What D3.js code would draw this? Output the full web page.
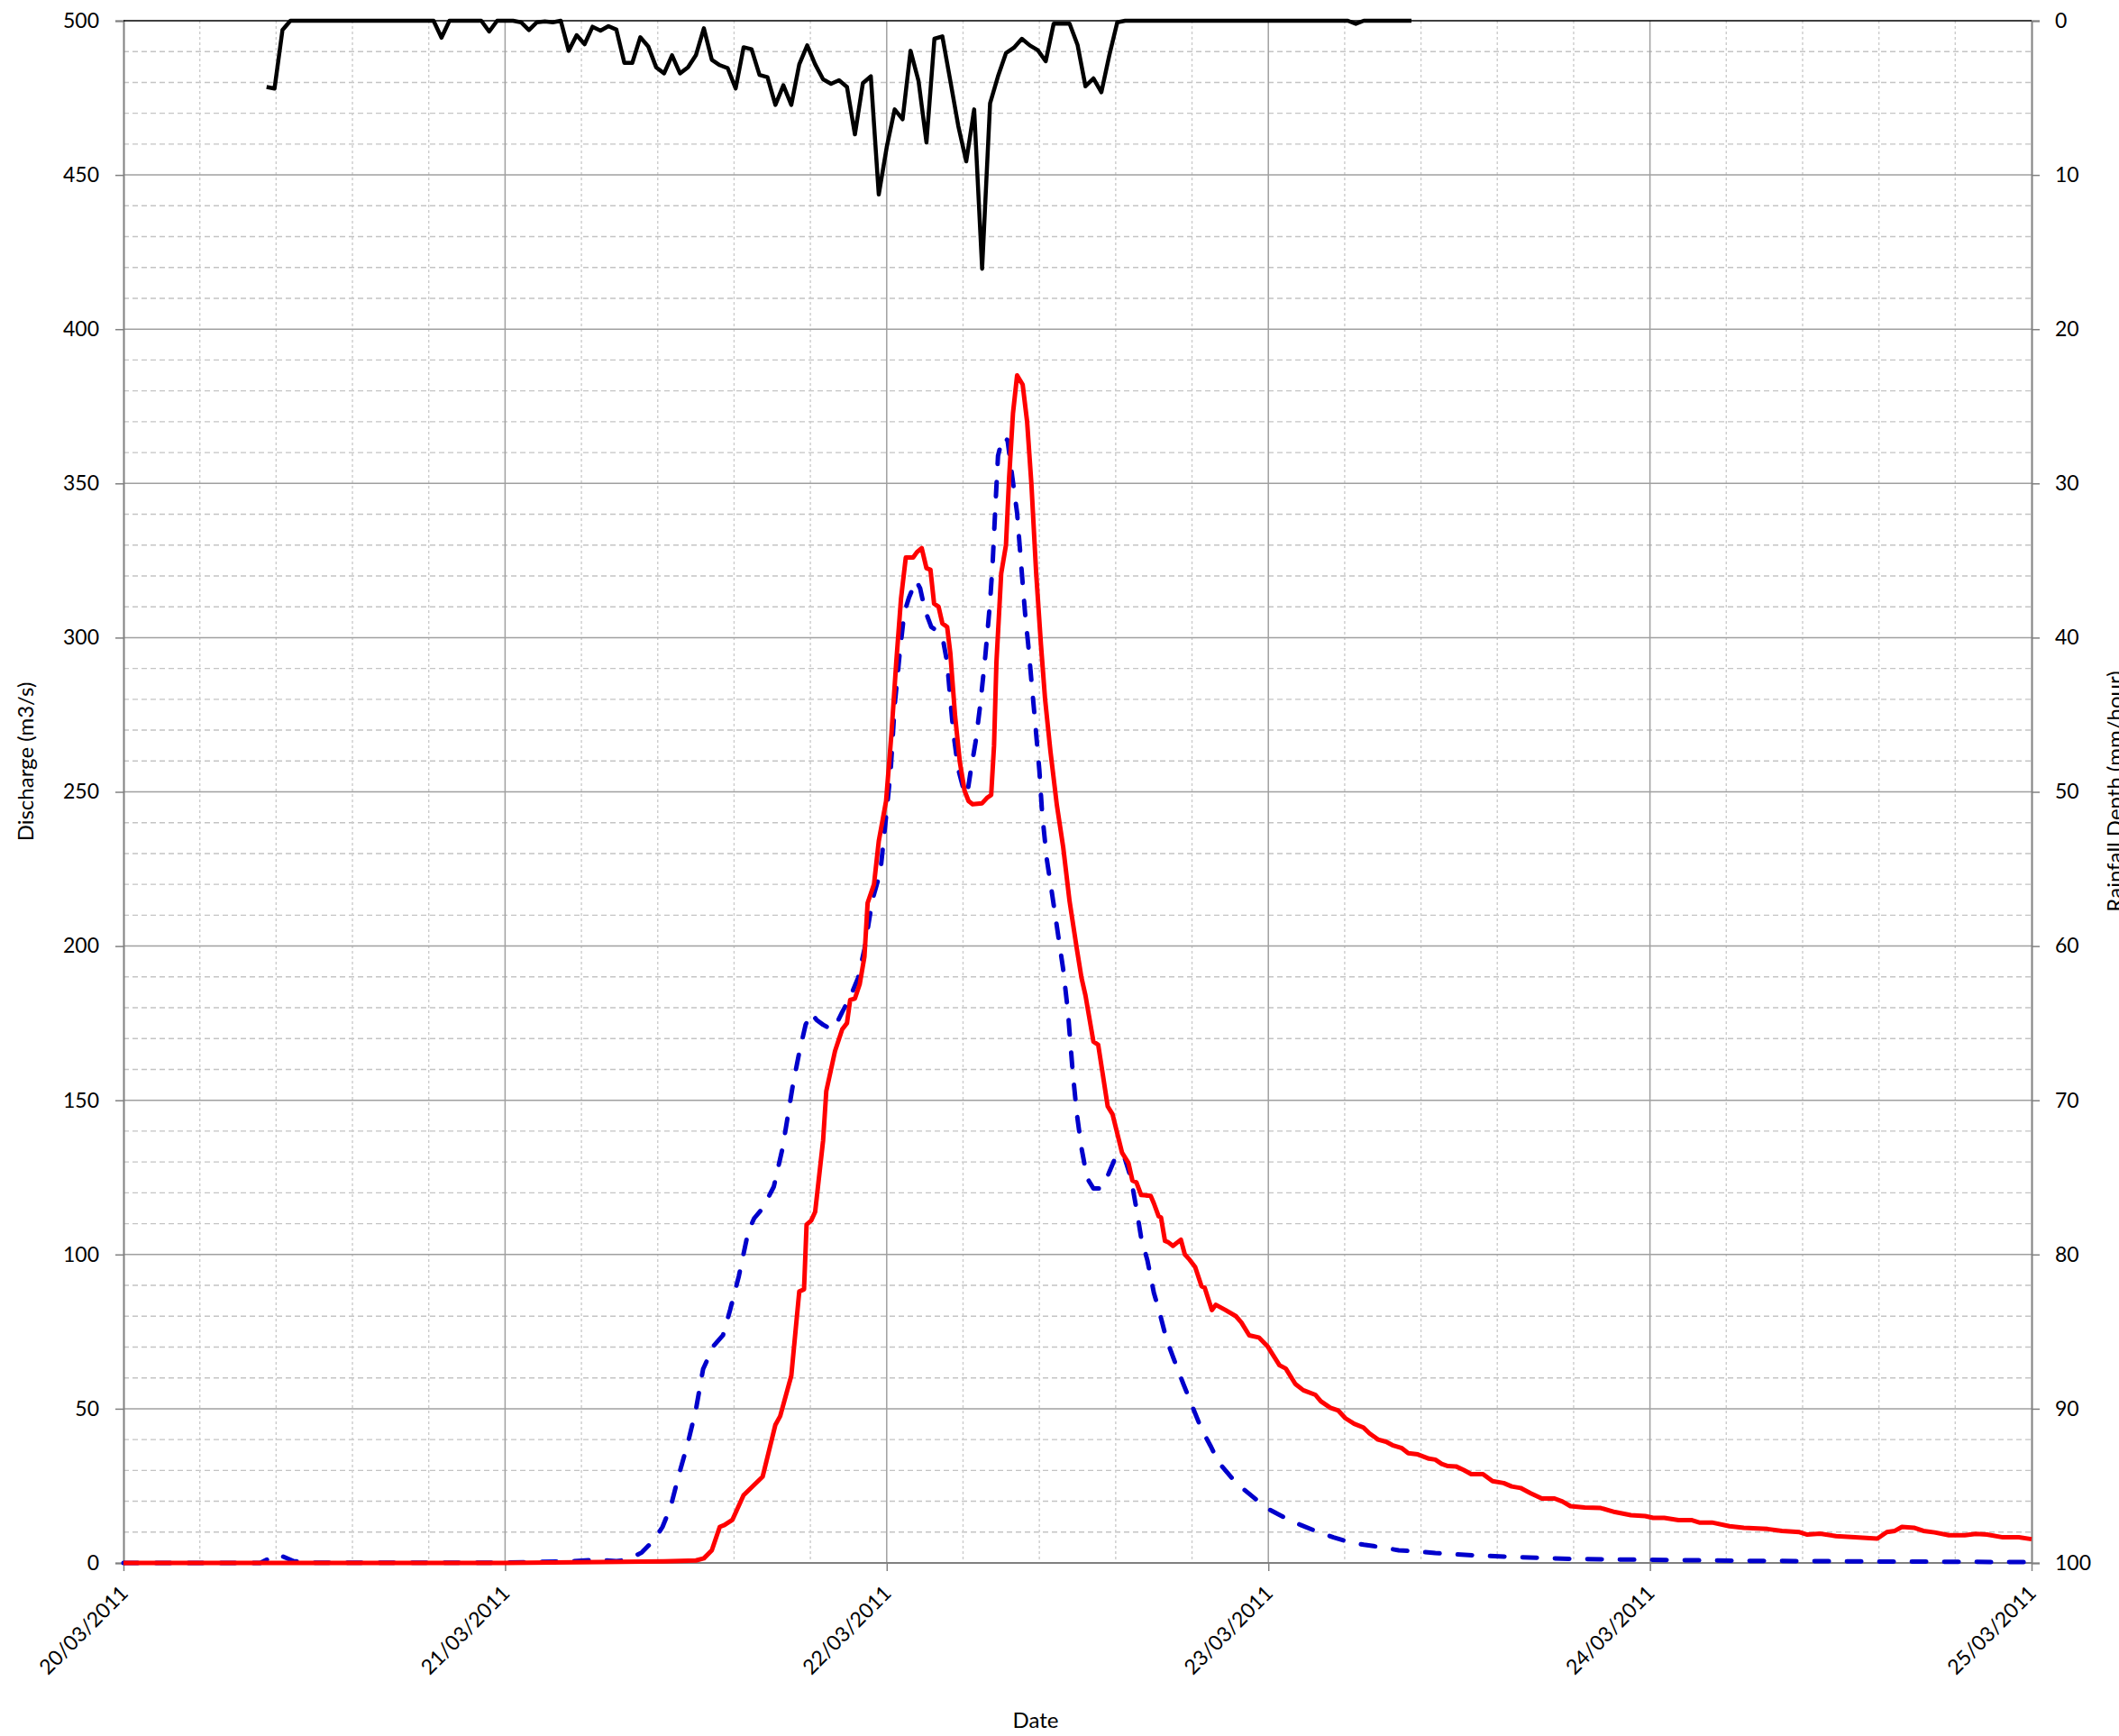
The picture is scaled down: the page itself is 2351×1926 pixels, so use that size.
<!DOCTYPE html>
<html><head><meta charset="utf-8">
<script src="https://cdn.jsdelivr.net/npm/d3@7"></script>
<style>
body{margin:0;background:#fff}
svg{display:block}
text{font-family:Lato,"Open Sans",sans-serif;fill:#000}
</style>
</head><body>
<svg id="chart" width="2351" height="1926"></svg>
<script>
// ---------- DATA ----------
// time axis: hours after 20/03/2011 00:00
const axisStart = "2011-03-20T00:00:00Z";
const axisEnd = "2011-03-25T00:00:00Z";
const dayTickLabels = ["20/03/2011","21/03/2011","22/03/2011","23/03/2011","24/03/2011","25/03/2011"];
const dischargeTicks = [0,50,100,150,200,250,300,350,400,450,500];
const rainTicks = [0,10,20,30,40,50,60,70,80,90,100];

// observed discharge (red, solid)
const observedHours = [0,24,30,34,36,36.5,37,37.5,37.8,38.3,39,40.2,41,41.3,42,42.5,42.8,42.96,43.25,43.5,44,44.2,44.75,45.2,45.5,45.7,46,46.3,46.6,46.8,47.2,47.5,47.96,48.3,48.6,48.9,49.2,49.66,49.9,50.2,50.5,50.75,50.98,51.26,51.5,51.8,52,52.3,52.6,52.9,53.15,53.4,54,54.3,54.57,54.75,54.9,55.2,55.5,55.7,55.94,56.2,56.55,56.83,57.1,57.4,57.7,57.96,58.3,58.7,59.1,59.5,59.96,60.25,60.5,61,61.3,61.57,61.9,62.2,62.8,63.2,63.45,63.7,64,64.6,64.8,65.1,65.25,65.5,65.7,66,66.5,66.75,67,67.4,67.8,68,68.45,68.7,69.3,69.96,70.3,70.8,71.4,71.94,72.7,73.1,73.7,74.2,74.96,75.3,75.9,76.4,76.85,77.4,77.98,78.36,78.9,79.4,79.8,80.4,80.8,81.4,82.1,82.5,82.9,83.3,83.8,84.3,84.76,85.5,86.1,86.8,87.3,87.86,88.5,89.2,90,90.5,91,91.9,92.9,93.8,94.8,95.7,96.2,96.9,97.8,98.6,99.1,99.9,101,101.9,103.4,104.3,105.4,105.9,106.7,107.7,108.9,110.3,110.9,111.4,111.85,112.6,113.2,113.9,114.8,115.8,116.5,117.2,118.2,119.2,120];
const observedQ = [0,0,0.3,0.5,0.8,1.5,4.1,11.7,12.3,14,22,28,44.8,47.6,60.7,88,88.7,109.7,111,113.8,137,153,166,173,175,182.5,183,187.6,196.6,214,220,234,247,269,292,312.7,326,326,327.7,329,322.5,322,311,310,304.6,303.5,295,274.6,259.6,250.3,247,246,246.3,248,249,265,292,320.8,330,352,372.7,385,382,370,349.7,320.8,297.7,280,263,245.7,232,214.5,199,189.7,184,169,168,159,148,145.5,133,129.7,124,123.4,119.3,119,116.6,112.4,112,104.4,104,102.8,104.8,100,98.6,95.9,89.7,89.2,82,83.7,82,80,78,73.8,73.1,70.3,64.1,63,58,56,54.5,52.4,50.3,49.4,46.9,45.1,43.9,42,40,39.3,38.2,37.2,35.6,35.2,33.8,33.5,32.1,31.4,31.3,30.1,28.8,28.8,26.5,25.9,24.8,24.3,22.6,20.9,20.9,19.9,18.4,18,17.8,16.5,15.5,15.2,14.6,14.6,13.9,13.9,13.1,13.1,11.9,11.4,11,10.4,10,9.2,9.5,8.7,8.3,7.9,10,10.4,11.7,11.4,10.4,9.9,9,9,9.4,9.2,8.3,8.3,7.7];

// simulated discharge (blue, dashed)
const simulatedHours = [0,8.6,9.7,10.7,12,24,28,29.7,31,31.7,32.6,33.4,33.9,34.4,34.9,35.5,36,36.45,37.1,37.7,38.15,38.7,39.3,39.66,40.2,40.9,41.45,41.8,42.1,42.5,42.9,43.25,43.6,44,44.5,44.75,45.2,45.7,46.2,46.6,47.1,47.6,47.96,48.25,48.5,48.8,49.1,49.4,49.85,50.1,50.4,50.8,51.2,51.55,51.8,52,52.2,52.5,52.8,53.05,53.3,53.6,53.9,54.2,54.5,54.66,54.85,55,55.3,55.6,55.9,56.2,56.45,56.7,56.9,57.1,57.3,57.6,57.77,58.06,58.34,59.1,59.4,59.7,59.96,60.25,60.6,61,61.47,61.94,62.4,62.7,62.98,63.36,63.74,64,64.4,64.8,65.15,65.6,66.1,66.66,67.2,67.8,68.36,68.9,69.7,70.4,71.2,72.1,73.1,74,75,76.1,77,78,79.1,80.2,81.4,82.5,83.45,85.2,87.6,91.2,96,102,109,118.6,120];
const simulatedQ = [0,0,2.8,0.6,0.1,0.1,0.5,1,0.6,1,3.4,7.6,11.7,18,28,39,49.7,62.8,70.3,73.8,82,93,107.6,111.7,115,122,134.5,145.5,155,165.5,174.5,178.3,176,174.5,173,173.8,178.6,183.4,189.7,199,215,224,242,257,278,294,308,313,318.5,316,309,303.5,302,299,292,280,268.8,257.3,251.5,249,257.3,266.5,279,294,311.5,324,344,359,365,364,352,340.4,324,308,297.7,286,274.6,257,243.4,228.4,219,192.4,178.6,159,145.5,134.5,124.8,121.4,121.4,126,131.7,132.8,131,124.8,113.8,105.5,98,87.6,81.4,72.4,65.5,58,51,43.4,38,32.4,27.6,24.1,20.7,17.2,14.5,12.4,10.3,8.3,6.9,5.9,5.1,4.1,3.7,3.2,2.9,2.4,1.9,1.3,1,0.7,0.5,0.3,0.3];

// rainfall depth (black, right axis reversed), every 30 minutes from 20/03 09:00
const rainStart = "2011-03-20T09:00:00Z";
const rainStepMinutes = 30;
const rainfall = [4.3,4.4,0.6,
 0,0,0,0,0,0,0,0,0,0,0,0,0,0,0,0,0,0,0,
 1.1,0,0,0,0,0,0.7,0,0,0,
 0.1,0.6,0.1,0.05,0.1,0,
 1.95,0.94,1.52,0.39,0.64,0.35,0.58,2.73,2.73,1.07,1.66,3.02,3.41,2.24,3.41,3.02,2.24,0.49,2.53,2.88,3.08,4.39,1.72,1.85,3.51,3.66,5.46,4.19,5.46,2.83,1.6,2.83,3.8,4.09,3.86,4.29,7.37,4.05,3.6,11.27,8.2,5.75,6.39,1.95,3.9,7.89,1.17,1.01,3.9,6.82,9.12,5.75,16.08,5.36,3.6,2.1,1.75,1.17,1.6,1.91,2.63,0.19,0.19,0.19,1.56,4.25,3.74,4.64,2.24,0.1,
 0,0,0,0,0,0,0,0,0,0,0,0,0,0,0,0,0,0,0,0,0,0,0,0,0,0,0,0,0,
 0.2,0,0,0,0,0,0,0];

// ---------- CHART ----------
const svg = d3.select("#chart");
const L = 137, R = 2254, T = 23, B = 1734;
const t0 = new Date(axisStart), t1 = new Date(axisEnd);
const hourDate = h => new Date(t0.getTime() + h * 3600e3);

const x = d3.scaleUtc().domain([t0, t1]).range([L, R]);
const yQ = d3.scaleLinear().domain([0, 500]).range([B, T]);
const yR = d3.scaleLinear().domain([0, 100]).range([T, B]);

// minor gridlines
const gMinor = svg.append("g");
d3.range(0, 500, 10).filter(v => v % 50 !== 0).forEach(v => {
  gMinor.append("line").attr("x1", L).attr("x2", R).attr("y1", yQ(v)).attr("y2", yQ(v))
    .attr("stroke", "#c4c4c4").attr("stroke-width", 1.4).attr("stroke-dasharray", "6,4");
});
d3.range(0, 120, 4.8).forEach((h, i) => {
  if (i % 5 === 0) return;
  const xx = x(hourDate(h));
  gMinor.append("line").attr("x1", xx).attr("x2", xx).attr("y1", T).attr("y2", B)
    .attr("stroke", "#cccccc").attr("stroke-width", 1.4).attr("stroke-dasharray", "3,3");
});
// major gridlines
dischargeTicks.forEach(v => {
  if (v === 0 || v === 500) return;
  gMinor.append("line").attr("x1", L).attr("x2", R).attr("y1", yQ(v)).attr("y2", yQ(v))
    .attr("stroke", "#a0a0a0").attr("stroke-width", 1.5);
});
const dayDates = dayTickLabels.map((d, i) => hourDate(24 * i));
dayDates.slice(1, -1).forEach(d => {
  gMinor.append("line").attr("x1", x(d)).attr("x2", x(d)).attr("y1", T).attr("y2", B)
    .attr("stroke", "#a0a0a0").attr("stroke-width", 1.5);
});

// axes
const axL = svg.append("g").attr("transform", `translate(${L},0)`)
  .call(d3.axisLeft(yQ).tickValues(dischargeTicks).tickSize(9).tickPadding(18).tickFormat(d3.format("d")));
const axR = svg.append("g").attr("transform", `translate(${R},0)`)
  .call(d3.axisRight(yR).tickValues(rainTicks).tickSize(9).tickPadding(17).tickFormat(d3.format("d")));
const axB = svg.append("g").attr("transform", `translate(0,${B})`)
  .call(d3.axisBottom(x).tickValues(dayDates).tickSize(9).tickFormat((d, i) => dayTickLabels[i]));
[axL, axR, axB].forEach(a => {
  a.select(".domain").attr("stroke", "#808080").attr("stroke-width", 2);
  a.selectAll(".tick line").attr("stroke", "#808080").attr("stroke-width", 1.5);
  a.selectAll("text").style("font-size", "23px").style("font-family", "Lato");
});
axB.select(".domain").attr("d", `M${L},0H${R}`);
axB.selectAll(".tick text").attr("y", 0).attr("dy", 0).attr("text-anchor", "end")
  .attr("transform", "translate(6,35) rotate(-45)");
// top border
svg.append("line").attr("x1", L).attr("x2", R).attr("y1", T).attr("y2", T)
  .attr("stroke", "#000").attr("stroke-width", 1.5);

// series
const lineQ = (hs, qs) => d3.line().x((d, i) => x(hourDate(hs[i]))).y((d, i) => yQ(qs[i]))(qs);
svg.append("path").attr("d", lineQ(simulatedHours, simulatedQ))
  .attr("fill", "none").attr("stroke", "#0000cc").attr("stroke-width", 5)
  .attr("stroke-dasharray", "16,20").attr("stroke-linecap", "round").attr("stroke-linejoin", "round");
svg.append("path").attr("d", lineQ(observedHours, observedQ))
  .attr("fill", "none").attr("stroke", "#ff0000").attr("stroke-width", 5)
  .attr("stroke-linejoin", "round");
const r0 = new Date(rainStart);
const rainLine = d3.line()
  .x((d, i) => x(new Date(r0.getTime() + i * rainStepMinutes * 60e3)))
  .y(d => yR(d));
svg.append("path").attr("d", rainLine(rainfall))
  .attr("fill", "none").attr("stroke", "#000").attr("stroke-width", 4.5)
  .attr("stroke-linejoin", "round");

// axis titles
svg.append("text").attr("transform", "translate(37,845) rotate(-90)")
  .attr("text-anchor", "middle").style("font-size", "24px").text("Discharge (m3/s)");
svg.append("text").attr("transform", "translate(2355,878) rotate(-90)")
  .attr("text-anchor", "middle").style("font-size", "24px").text("Rainfall Depth (mm/hour)");
svg.append("text").attr("x", 1149).attr("y", 1917)
  .attr("text-anchor", "middle").style("font-size", "24px").text("Date");
</script>
</body></html>
